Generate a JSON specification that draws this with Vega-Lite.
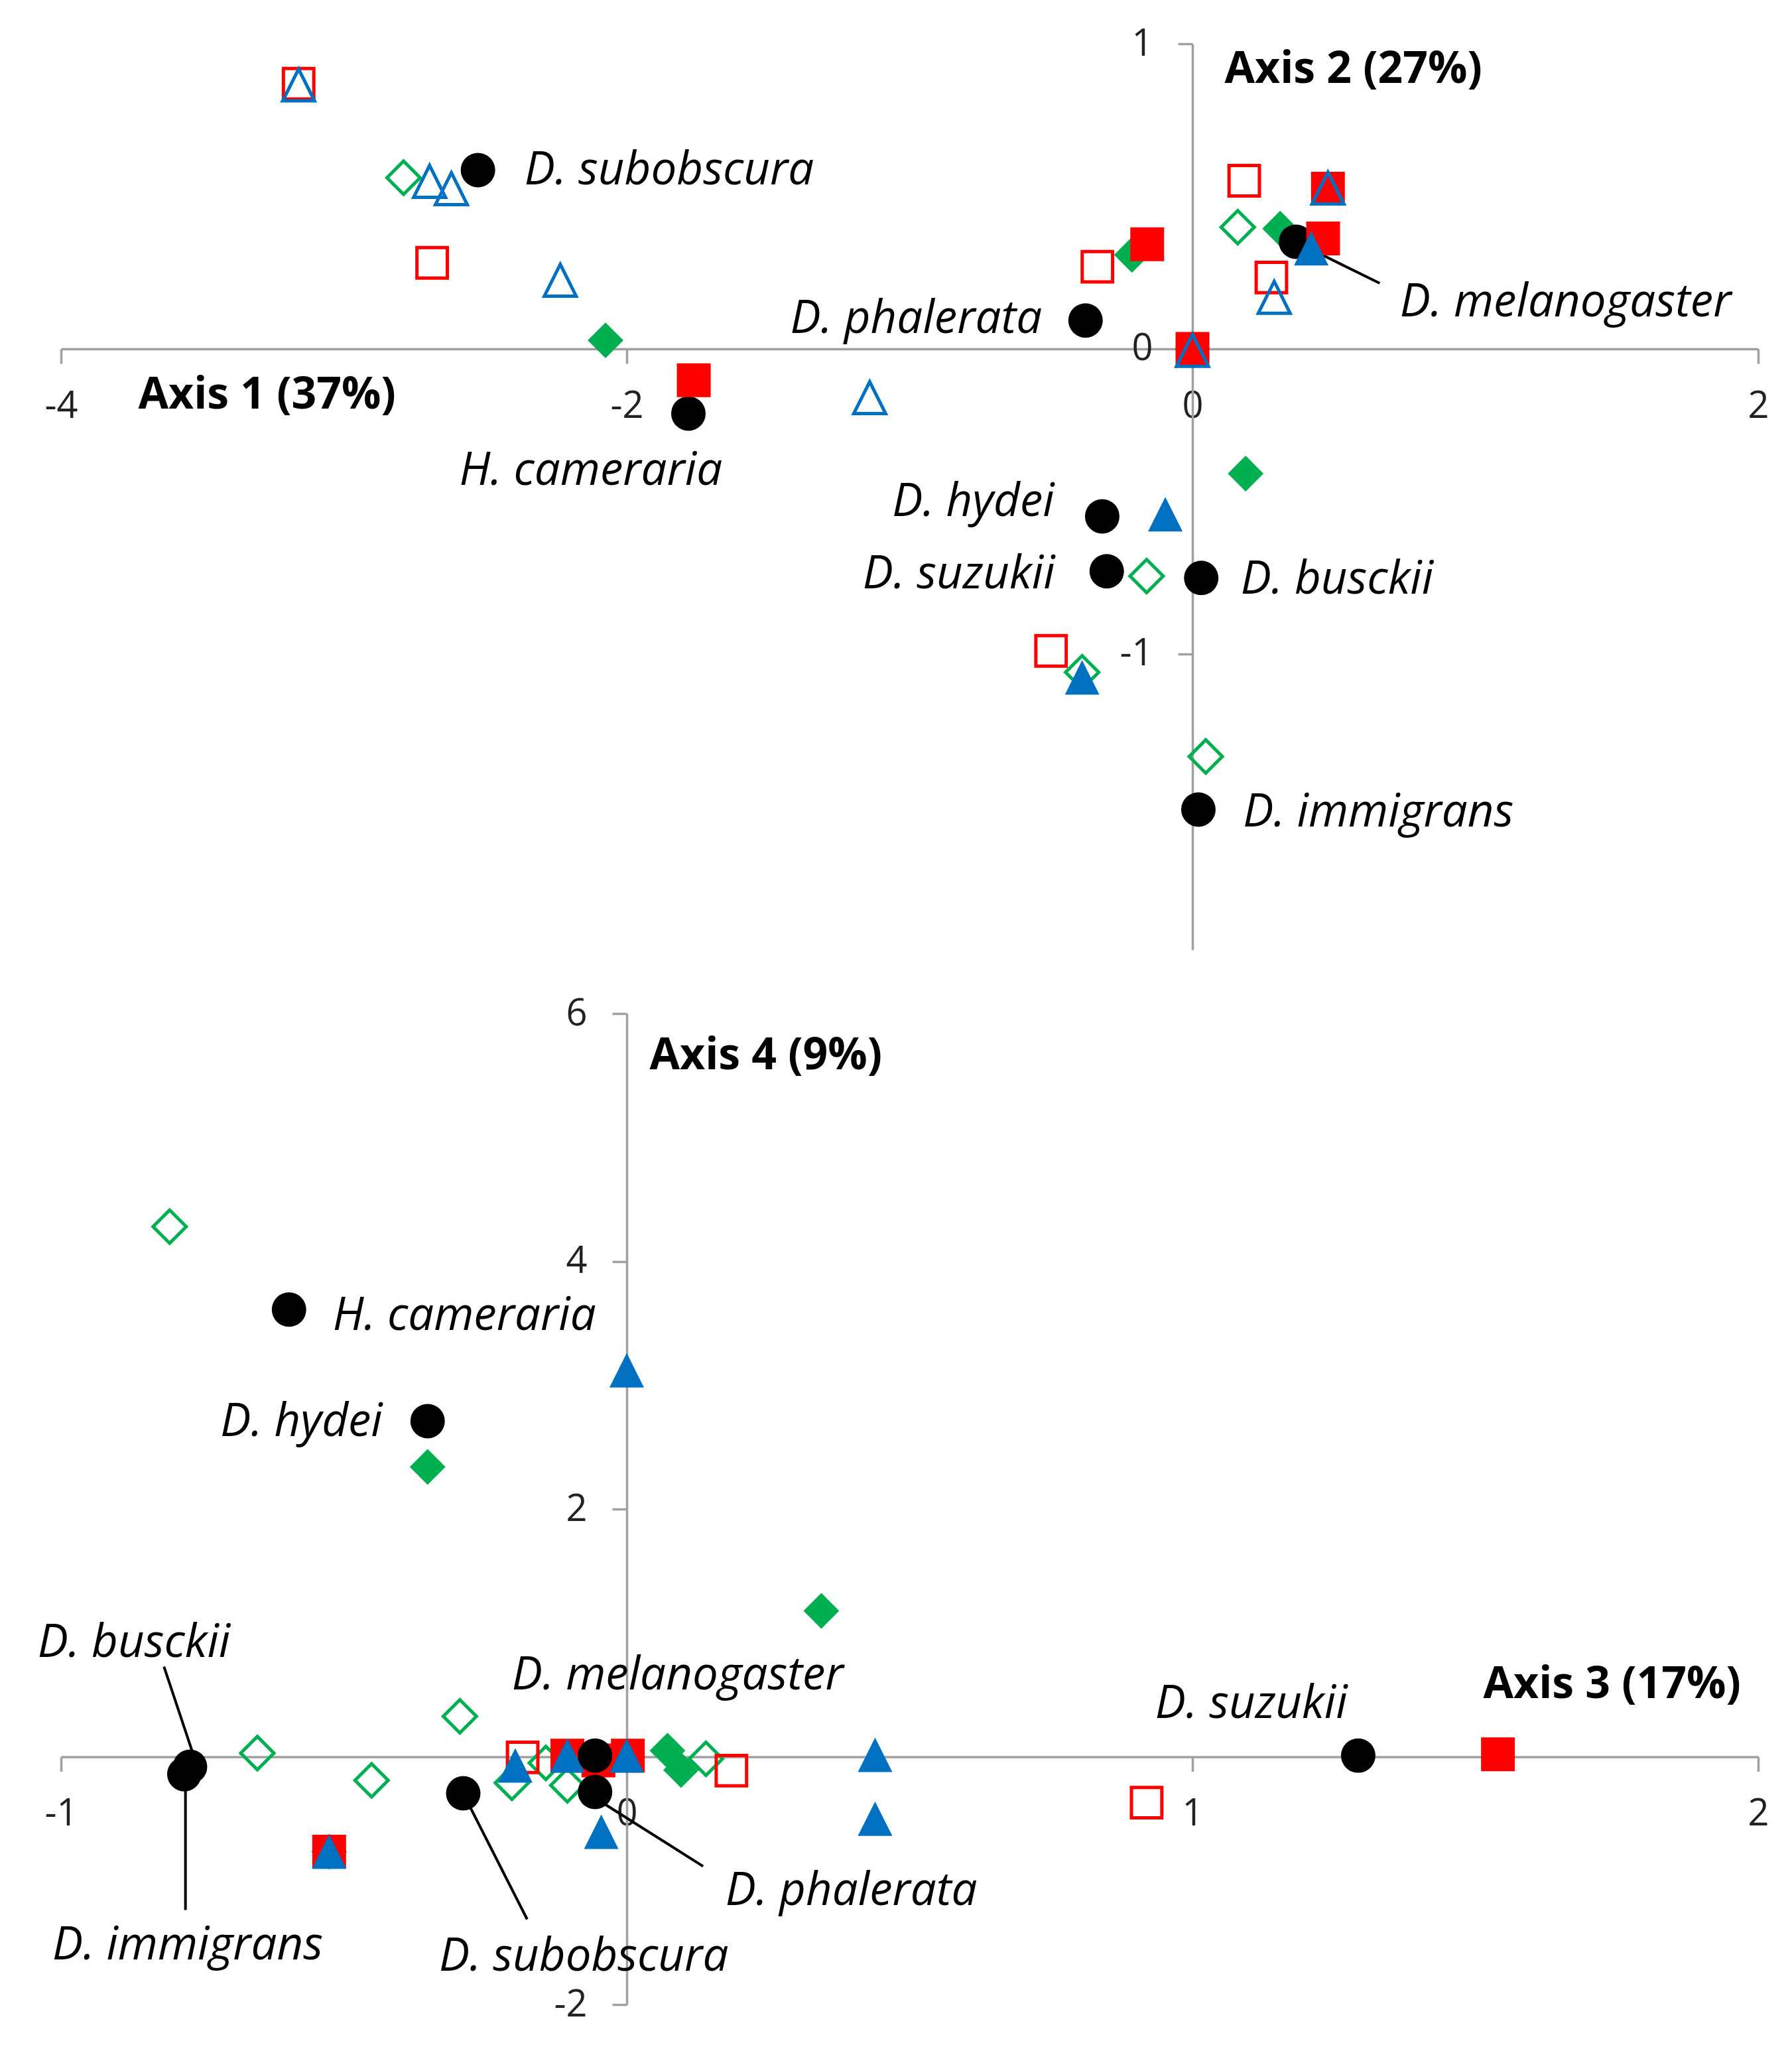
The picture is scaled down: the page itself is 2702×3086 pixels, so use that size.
{
  "$schema": "https://vega.github.io/schema/vega-lite/v6.json",
  "background": "white",
  "padding": {"left": 56, "top": 38, "right": 20, "bottom": 40},
  "bounds": "flush",
  "spacing": 96,
  "config": {
    "view": {"stroke": null},
    "font": "Open Sans",
    "axis": {
      "grid": false,
      "domainColor": "#A0A0A0",
      "domainWidth": 3.5,
      "domainCap": "butt",
      "tickColor": "#A0A0A0",
      "tickWidth": 3.5,
      "tickSize": 22,
      "labelFont": "Open Sans",
      "labelFontSize": 56,
      "labelColor": "#222222",
      "labelFlush": false,
      "labelOverlap": false,
      "labelBound": false,
      "labelExpr": "toString(datum.value)",
      "titleFont": "Open Sans",
      "titleFontSize": 66,
      "titleFontWeight": "bold",
      "titleColor": "#000000",
      "titleAlign": "left",
      "titleBaseline": "middle",
      "titleAngle": 0
    },
    "axisX": {"labelPadding": 64, "labelBaseline": "middle"},
    "axisY": {"labelPadding": 38}
  },
  "resolve": {"scale": {"x": "independent", "y": "independent"}},
  "datasets": {
    "top_points": [
      {"marker": "Group C (filled)", "a1": -2.075, "a2": 0.028},
      {"marker": "Group C (filled)", "a1": -0.214, "a2": 0.308},
      {"marker": "Group C (filled)", "a1": 0.31, "a2": 0.394},
      {"marker": "Group C (filled)", "a1": 0.188, "a2": -0.409},
      {"marker": "Group C (filled)", "a1": 0.0, "a2": 0.0},
      {"marker": "Group C (open)", "a1": -2.789, "a2": 0.561},
      {"marker": "Group C (open)", "a1": 0.16, "a2": 0.399},
      {"marker": "Group C (open)", "a1": -0.162, "a2": -0.745},
      {"marker": "Group C (open)", "a1": 0.047, "a2": -1.336},
      {"marker": "Group C (open)", "a1": -0.39, "a2": -1.06},
      {"marker": "Species", "name": "D. subobscura", "a1": -2.526, "a2": 0.586},
      {"marker": "Species", "name": "D. phalerata", "a1": -0.378, "a2": 0.093},
      {"marker": "Species", "name": "D. melanogaster", "a1": 0.366, "a2": 0.351},
      {"marker": "Species", "name": "H. cameraria", "a1": -1.782, "a2": -0.212},
      {"marker": "Species", "name": "D. hydei", "a1": -0.319, "a2": -0.549},
      {"marker": "Species", "name": "D. suzukii", "a1": -0.303, "a2": -0.729},
      {"marker": "Species", "name": "D. busckii", "a1": 0.031, "a2": -0.751},
      {"marker": "Species", "name": "D. immigrans", "a1": 0.021, "a2": -1.51},
      {"marker": "Group A (filled)", "a1": -1.763, "a2": -0.103},
      {"marker": "Group A (filled)", "a1": -0.16, "a2": 0.343},
      {"marker": "Group A (filled)", "a1": 0.0, "a2": 0.0},
      {"marker": "Group A (filled)", "a1": 0.479, "a2": 0.525},
      {"marker": "Group A (filled)", "a1": 0.462, "a2": 0.362},
      {"marker": "Group A (open)", "a1": -3.16, "a2": 0.869},
      {"marker": "Group A (open)", "a1": -2.688, "a2": 0.282},
      {"marker": "Group A (open)", "a1": 0.183, "a2": 0.551},
      {"marker": "Group A (open)", "a1": -0.336, "a2": 0.269},
      {"marker": "Group A (open)", "a1": 0.279, "a2": 0.234},
      {"marker": "Group A (open)", "a1": -0.5, "a2": -0.99},
      {"marker": "Group B (filled)", "a1": 0.42, "a2": 0.33},
      {"marker": "Group B (filled)", "a1": -0.096, "a2": -0.542},
      {"marker": "Group B (filled)", "a1": -0.39, "a2": -1.077},
      {"marker": "Group B (open)", "a1": -3.16, "a2": 0.865},
      {"marker": "Group B (open)", "a1": -2.697, "a2": 0.549},
      {"marker": "Group B (open)", "a1": -2.62, "a2": 0.525},
      {"marker": "Group B (open)", "a1": -2.235, "a2": 0.225},
      {"marker": "Group B (open)", "a1": -1.141, "a2": -0.16},
      {"marker": "Group B (open)", "a1": 0.0, "a2": -0.005},
      {"marker": "Group B (open)", "a1": 0.479, "a2": 0.527},
      {"marker": "Group B (open)", "a1": 0.289, "a2": 0.169}
    ],
    "top_labels": [
      {"name": "D. subobscura", "a1": -1.85, "a2": 0.585},
      {"name": "D. phalerata", "a1": -0.977, "a2": 0.097},
      {"name": "D. melanogaster", "a1": 1.319, "a2": 0.152},
      {"name": "H. cameraria", "a1": -2.127, "a2": -0.4},
      {"name": "D. hydei", "a1": -0.775, "a2": -0.503},
      {"name": "D. suzukii", "a1": -0.826, "a2": -0.74},
      {"name": "D. busckii", "a1": 0.511, "a2": -0.757},
      {"name": "D. immigrans", "a1": 0.657, "a2": -1.52}
    ],
    "top_lines": [
      {"name": "D. melanogaster", "a1": 0.369, "a2": 0.349, "b1": 0.662, "b2": 0.215}
    ],
    "bottom_points": [
      {"marker": "Group C (filled)", "a3": -0.352, "a4": 2.34},
      {"marker": "Group C (filled)", "a3": 0.344, "a4": 1.178},
      {"marker": "Group C (filled)", "a3": 0.072, "a4": 0.05},
      {"marker": "Group C (filled)", "a3": 0.096, "a4": -0.107},
      {"marker": "Group C (filled)", "a3": -0.526, "a4": -0.766},
      {"marker": "Group C (open)", "a3": -0.808, "a4": 4.28},
      {"marker": "Group C (open)", "a3": -0.653, "a4": 0.03},
      {"marker": "Group C (open)", "a3": -0.451, "a4": -0.19},
      {"marker": "Group C (open)", "a3": -0.295, "a4": 0.327},
      {"marker": "Group C (open)", "a3": -0.203, "a4": -0.21},
      {"marker": "Group C (open)", "a3": -0.143, "a4": -0.05},
      {"marker": "Group C (open)", "a3": -0.105, "a4": -0.23},
      {"marker": "Group C (open)", "a3": 0.14, "a4": -0.016},
      {"marker": "Group A (filled)", "a3": -0.105, "a4": 0.01},
      {"marker": "Group A (filled)", "a3": -0.05, "a4": -0.03},
      {"marker": "Group A (filled)", "a3": 0.002, "a4": 0.01},
      {"marker": "Group A (filled)", "a3": -0.526, "a4": -0.766},
      {"marker": "Group A (filled)", "a3": 1.54, "a4": 0.02},
      {"marker": "Group A (open)", "a3": -0.184, "a4": -0.005},
      {"marker": "Group A (open)", "a3": 0.185, "a4": -0.112},
      {"marker": "Group A (open)", "a3": 0.919, "a4": -0.37},
      {"marker": "Group B (filled)", "a3": 0.0, "a4": 3.12},
      {"marker": "Group B (filled)", "a3": -0.197, "a4": -0.07},
      {"marker": "Group B (filled)", "a3": -0.105, "a4": 0.01},
      {"marker": "Group B (filled)", "a3": 0.0, "a4": 0.01},
      {"marker": "Group B (filled)", "a3": -0.045, "a4": -0.605},
      {"marker": "Group B (filled)", "a3": -0.526, "a4": -0.766},
      {"marker": "Group B (filled)", "a3": 0.439, "a4": 0.016},
      {"marker": "Group B (filled)", "a3": 0.439, "a4": -0.5},
      {"marker": "Species", "name": "H. cameraria", "a3": -0.597, "a4": 3.61},
      {"marker": "Species", "name": "D. hydei", "a3": -0.352, "a4": 2.71},
      {"marker": "Species", "name": "D. suzukii", "a3": 1.293, "a4": 0.01},
      {"marker": "Species", "name": "D. busckii", "a3": -0.772, "a4": -0.08},
      {"marker": "Species", "name": "D. immigrans", "a3": -0.782, "a4": -0.14},
      {"marker": "Species", "name": "D. subobscura", "a3": -0.289, "a4": -0.295},
      {"marker": "Species", "name": "D. melanogaster", "a3": -0.056, "a4": 0.01},
      {"marker": "Species", "name": "D. phalerata", "a3": -0.056, "a4": -0.284}
    ],
    "bottom_labels": [
      {"name": "H. cameraria", "a3": -0.287, "a4": 3.56},
      {"name": "D. hydei", "a3": -0.575, "a4": 2.7},
      {"name": "D. busckii", "a3": -0.871, "a4": 0.916},
      {"name": "D. melanogaster", "a3": 0.09, "a4": 0.655},
      {"name": "D. suzukii", "a3": 1.104, "a4": 0.428},
      {"name": "D. immigrans", "a3": -0.776, "a4": -1.526},
      {"name": "D. subobscura", "a3": -0.076, "a4": -1.612},
      {"name": "D. phalerata", "a3": 0.397, "a4": -1.087}
    ],
    "bottom_lines": [
      {"name": "D. busckii", "a3": -0.818, "a4": 0.728, "b3": -0.768, "b4": 0.043},
      {"name": "D. immigrans", "a3": -0.78, "a4": -0.273, "b3": -0.78, "b4": -1.237},
      {"name": "D. subobscura", "a3": -0.279, "a4": -0.386, "b3": -0.176, "b4": -1.312},
      {"name": "D. phalerata", "a3": -0.047, "a4": -0.359, "b3": 0.135, "b4": -0.884}
    ]
  },
  "vconcat": [
    {
      "width": 2559,
      "height": 1366,
      "encoding": {
        "x": {"field": "a1", "type": "quantitative", "scale": {"domain": [-4, 2], "nice": false, "zero": false},
          "axis": {"orient": "bottom", "offset": -906, "values": [-4, -2, 0, 2], "title": "Axis 1 (37%)", "titleX": 116, "titleY": 69}},
        "y": {"field": "a2", "type": "quantitative", "scale": {"domain": [-1.97, 1], "nice": false, "zero": false},
          "axis": {"orient": "left", "offset": -1706, "values": [-1, 0, 1], "title": "Axis 2 (27%)", "titleX": 48, "titleY": 38}}
      },
      "layer": [
        {
          "data": {"name": "top_lines"},
          "mark": {"type": "rule", "color": "#000000", "strokeWidth": 4},
          "encoding": {
            "x2": {"field": "b1"},
            "y2": {"field": "b2"}
          }
        },
        {
          "data": {"name": "top_points"},
          "mark": {"type": "point", "opacity": 1},
          "encoding": {
            "shape": {"field": "marker", "type": "nominal", "legend": null,
              "scale": {"domain": ["Species", "Group A (filled)", "Group A (open)", "Group B (filled)", "Group B (open)", "Group C (filled)", "Group C (open)"],
                "range": ["circle", "square", "square", "M0,-1L1,1L-1,1Z", "M0,-1L1,1L-1,1Z", "diamond", "diamond"]}},
            "fill": {"field": "marker", "type": "nominal", "legend": null,
              "scale": {"domain": ["Species", "Group A (filled)", "Group A (open)", "Group B (filled)", "Group B (open)", "Group C (filled)", "Group C (open)"],
                "range": ["#000000", "#FF0000", "transparent", "#0070C0", "transparent", "#00B050", "transparent"]}},
            "stroke": {"field": "marker", "type": "nominal", "legend": null,
              "scale": {"domain": ["Species", "Group A (filled)", "Group A (open)", "Group B (filled)", "Group B (open)", "Group C (filled)", "Group C (open)"],
                "range": ["#000000", "#FF0000", "#FF0000", "#0070C0", "#0070C0", "#00B050", "#00B050"]}},
            "strokeWidth": {"field": "marker", "type": "nominal", "legend": null,
              "scale": {"type": "ordinal", "domain": ["Species", "Group A (filled)", "Group A (open)", "Group B (filled)", "Group B (open)", "Group C (filled)", "Group C (open)"],
                "range": [0, 0, 5, 0, 5, 0, 5]}},
            "size": {"field": "marker", "type": "nominal", "legend": null,
              "scale": {"type": "ordinal", "domain": ["Species", "Group A (filled)", "Group A (open)", "Group B (filled)", "Group B (open)", "Group C (filled)", "Group C (open)"],
                "range": [2700, 2600, 2100, 2700, 2300, 2900, 2500]}}
          }
        },
        {
          "data": {"name": "top_labels"},
          "mark": {"type": "text", "font": "Open Sans", "fontStyle": "italic", "fontSize": 69, "color": "#000000", "align": "center", "baseline": "middle"},
          "encoding": {
            "text": {"field": "name", "type": "nominal"}
          }
        }
      ]
    },
    {
      "width": 2559,
      "height": 1494,
      "encoding": {
        "x": {"field": "a3", "type": "quantitative", "scale": {"domain": [-1, 2], "nice": false, "zero": false},
          "axis": {"orient": "bottom", "offset": -373.5, "values": [-1, 0, 1, 2], "title": "Axis 3 (17%)", "titleX": 2144, "titleY": -109}},
        "y": {"field": "a4", "type": "quantitative", "scale": {"domain": [-2, 6], "nice": false, "zero": false},
          "axis": {"orient": "left", "offset": -853, "values": [-2, 0, 2, 4, 6], "title": "Axis 4 (9%)", "titleX": 34, "titleY": 63}}
      },
      "layer": [
        {
          "data": {"name": "bottom_lines"},
          "mark": {"type": "rule", "color": "#000000", "strokeWidth": 4},
          "encoding": {
            "x2": {"field": "b3"},
            "y2": {"field": "b4"}
          }
        },
        {
          "data": {"name": "bottom_points"},
          "mark": {"type": "point", "opacity": 1},
          "encoding": {
            "shape": {"field": "marker", "type": "nominal", "legend": null,
              "scale": {"domain": ["Species", "Group A (filled)", "Group A (open)", "Group B (filled)", "Group B (open)", "Group C (filled)", "Group C (open)"],
                "range": ["circle", "square", "square", "M0,-1L1,1L-1,1Z", "M0,-1L1,1L-1,1Z", "diamond", "diamond"]}},
            "fill": {"field": "marker", "type": "nominal", "legend": null,
              "scale": {"domain": ["Species", "Group A (filled)", "Group A (open)", "Group B (filled)", "Group B (open)", "Group C (filled)", "Group C (open)"],
                "range": ["#000000", "#FF0000", "transparent", "#0070C0", "transparent", "#00B050", "transparent"]}},
            "stroke": {"field": "marker", "type": "nominal", "legend": null,
              "scale": {"domain": ["Species", "Group A (filled)", "Group A (open)", "Group B (filled)", "Group B (open)", "Group C (filled)", "Group C (open)"],
                "range": ["#000000", "#FF0000", "#FF0000", "#0070C0", "#0070C0", "#00B050", "#00B050"]}},
            "strokeWidth": {"field": "marker", "type": "nominal", "legend": null,
              "scale": {"type": "ordinal", "domain": ["Species", "Group A (filled)", "Group A (open)", "Group B (filled)", "Group B (open)", "Group C (filled)", "Group C (open)"],
                "range": [0, 0, 5, 0, 5, 0, 5]}},
            "size": {"field": "marker", "type": "nominal", "legend": null,
              "scale": {"type": "ordinal", "domain": ["Species", "Group A (filled)", "Group A (open)", "Group B (filled)", "Group B (open)", "Group C (filled)", "Group C (open)"],
                "range": [2700, 2600, 2100, 2700, 2300, 2900, 2500]}}
          }
        },
        {
          "data": {"name": "bottom_labels"},
          "mark": {"type": "text", "font": "Open Sans", "fontStyle": "italic", "fontSize": 69, "color": "#000000", "align": "center", "baseline": "middle"},
          "encoding": {
            "text": {"field": "name", "type": "nominal"}
          }
        }
      ]
    }
  ]
}
